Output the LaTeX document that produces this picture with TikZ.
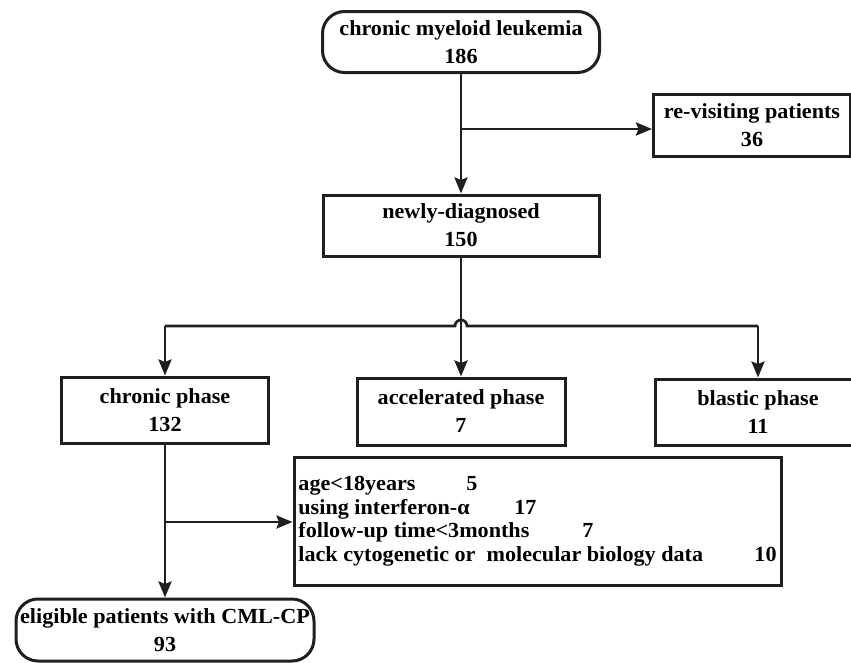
\documentclass[tikz,border=0pt]{standalone}
\usepackage{fontspec}
\setmainfont{Liberation Serif}[FakeStretch=1.03]
\usetikzlibrary{arrows.meta}
\tikzset{
  box/.style={draw=black!88, line width=3pt, rectangle, align=center, inner sep=0pt,
    font=\fontsize{21.5}{28}\selectfont\bfseries},
  capsule/.style={box, rounded corners=22pt},
  link/.style={draw=black!88, line width=2.7pt},
  arrow/.style={link, -{Stealth[length=16pt, width=13pt, inset=2.5pt]}}
}

\begin{document}
\begin{tikzpicture}[x=1pt, y=-1pt]
  \useasboundingbox (0,0) rectangle (851,662);
  \node[capsule, minimum width=277pt, minimum height=61pt] (cml) at (461,42)
    {chronic myeloid leukemia\\186};
  \node[box, minimum width=197pt, minimum height=62pt] (revisit) at (752,125)
    {re-visiting patients\\36};
  \node[box, minimum width=276pt, minimum height=61pt] (newly) at (461,225.5)
    {newly-diagnosed\\150};
  \node[box, minimum width=207pt, minimum height=66pt] (chronic) at (165,410)
    {chronic phase\\132};
  \node[box, minimum width=208pt, minimum height=67pt] (accel) at (461,411.5)
    {accelerated phase\\7};
  \node[box, minimum width=206pt, minimum height=66pt] (blastic) at (758,412)
    {blastic phase\\11};
  \node[box, minimum width=487pt, minimum height=128pt, align=left,
    font=\fontsize{21.5}{23.5}\selectfont\bfseries] (excl) at (537.5,521)
    {\makebox[168pt][l]{age<18years}5\\
     \makebox[216pt][l]{using interferon-α}17\\
     \makebox[284pt][l]{follow-up time<3months}7\\
     \makebox[456pt][l]{lack cytogenetic or\ \ molecular biology data}10};
  \node[capsule, minimum width=298pt, minimum height=62pt] (eligible) at (165,630)
    {eligible patients with CML-CP\\93};
  % forks and the crossing
  \coordinate (fork1) at (cml.south |- 0,129);
  \coordinate (hub) at (461,326);
  \coordinate (fork2) at (chronic.south |- 0,522);
  \draw[arrow] (cml) -- (newly);
  \draw[arrow] (fork1) -- (fork1 -| revisit.west);
  \draw[link] (chronic.north |- hub) -- ([xshift=-6pt]hub)
    arc[start angle=180, end angle=0, radius=6pt] -- (blastic.north |- hub);
  \draw[arrow] (chronic.north |- hub) -- (chronic.north);
  \draw[arrow] (blastic.north |- hub) -- (blastic.north);
  \draw[arrow] (newly) -- (accel);
  \draw[arrow] (chronic) -- (eligible);
  \draw[arrow] (fork2) -- (fork2 -| excl.west);
\end{tikzpicture}
\end{document}
